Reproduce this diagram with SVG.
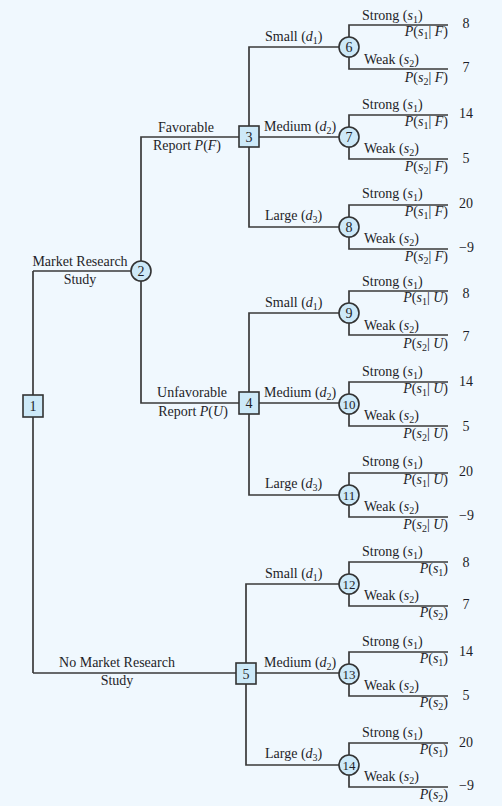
<svg xmlns="http://www.w3.org/2000/svg" width="502" height="806" viewBox="0 0 502 806">
<style>
text{font-family:"Liberation Serif","Times New Roman",serif;font-size:14px;fill:#1e1e28}
.i{font-style:italic}
.sub{font-size:10px}
.e{text-anchor:end}
.m{text-anchor:middle}
.ln{fill:none;stroke:#3a3a3a;stroke-width:1.7}
.nd{fill:#cde9f8;stroke:#333;stroke-width:1.6}
</style>
<rect width="502" height="806" fill="#f0f8fe"/>
<g id="connectors" class="ln">
<path d="M33,271 V673"/>
<path d="M33,271 H131"/>
<path d="M33,673 H236"/>
<path d="M141,261 V137 H239"/>
<path d="M141,281 V403 H239"/>
<path d="M249,126 V47 H339 M259,137 H339 M249,147 V227 H339"/>
<path d="M249,392 V313 H339 M259,403 H339 M249,414 V495 H339"/>
<path d="M246,663 V584 H339 M256,673 H339 M246,684 V765 H339"/>
<path d="M349,37 V25 H448 M349,57 V69 H448"/>
<path d="M349,127 V115 H448 M349,147 V159 H448"/>
<path d="M349,217 V205 H448 M349,237 V249 H448"/>
<path d="M349,303 V291 H448 M349,323 V335 H448"/>
<path d="M349,394 V382 H448 M349,414 V426 H448"/>
<path d="M349,485 V473 H448 M349,505 V517 H448"/>
<path d="M349,574 V562 H448 M349,594 V606 H448"/>
<path d="M349,664 V652 H448 M349,684 V696 H448"/>
<path d="M349,755 V743 H448 M349,775 V787 H448"/>
</g>
<g id="labels">
<text x="80" y="266" class="m">Market Research</text>
<text x="80" y="284" class="m">Study</text>
<text x="117" y="667" class="m">No Market Research</text>
<text x="117" y="685" class="m">Study</text>
<text x="186" y="132" class="m">Favorable</text>
<text x="187" y="150" class="m">Report <tspan class="i">P</tspan>(<tspan class="i">F</tspan>)</text>
<text x="192" y="397" class="m">Unfavorable</text>
<text x="193" y="416" class="m">Report <tspan class="i">P</tspan>(<tspan class="i">U</tspan>)</text>
</g>
<g id="decision-labels">
<text x="265" y="41">Small (<tspan class="i">d</tspan><tspan class="sub" dy="3">1</tspan><tspan dy="-3">)</tspan></text>
<text x="264" y="131">Medium (<tspan class="i">d</tspan><tspan class="sub" dy="3">2</tspan><tspan dy="-3">)</tspan></text>
<text x="265" y="220">Large (<tspan class="i">d</tspan><tspan class="sub" dy="3">3</tspan><tspan dy="-3">)</tspan></text>
<text x="265" y="307">Small (<tspan class="i">d</tspan><tspan class="sub" dy="3">1</tspan><tspan dy="-3">)</tspan></text>
<text x="264" y="397">Medium (<tspan class="i">d</tspan><tspan class="sub" dy="3">2</tspan><tspan dy="-3">)</tspan></text>
<text x="265" y="488">Large (<tspan class="i">d</tspan><tspan class="sub" dy="3">3</tspan><tspan dy="-3">)</tspan></text>
<text x="265" y="578">Small (<tspan class="i">d</tspan><tspan class="sub" dy="3">1</tspan><tspan dy="-3">)</tspan></text>
<text x="264" y="667">Medium (<tspan class="i">d</tspan><tspan class="sub" dy="3">2</tspan><tspan dy="-3">)</tspan></text>
<text x="265" y="758">Large (<tspan class="i">d</tspan><tspan class="sub" dy="3">3</tspan><tspan dy="-3">)</tspan></text>
</g>
<g id="node1"><rect class="nd" x="23" y="395" width="20" height="22"/><text x="33" y="411" class="m">1</text></g>
<g id="node2"><circle class="nd" cx="141" cy="271" r="10"/><text x="141" y="276" class="m">2</text></g>
<g id="node3"><rect class="nd" x="239" y="126" width="20" height="21"/><text x="249" y="142" class="m">3</text></g>
<g id="node4"><rect class="nd" x="239" y="392" width="20" height="22"/><text x="249" y="408" class="m">4</text></g>
<g id="node5"><rect class="nd" x="236" y="663" width="20" height="21"/><text x="246" y="679" class="m">5</text></g>

<g id="node6"><circle class="nd" cx="349" cy="47" r="10"/><text x="349" y="52" class="m">6</text>
<text x="362" y="20">Strong (<tspan class="i">s</tspan><tspan class="sub" dy="3">1</tspan><tspan dy="-3">)</tspan></text>
<text x="448" y="36" class="e"><tspan class="i">P</tspan>(<tspan class="i">s</tspan><tspan class="sub" dy="3">1</tspan><tspan dy="-3">| </tspan><tspan class="i">F</tspan>)</text>
<text x="364" y="64">Weak (<tspan class="i">s</tspan><tspan class="sub" dy="3">2</tspan><tspan dy="-3">)</tspan></text>
<text x="448" y="82" class="e"><tspan class="i">P</tspan>(<tspan class="i">s</tspan><tspan class="sub" dy="3">2</tspan><tspan dy="-3">| </tspan><tspan class="i">F</tspan>)</text>
<text x="466" y="28" class="m">8</text><text x="466" y="72" class="m">7</text></g>

<g id="node7"><circle class="nd" cx="349" cy="137" r="10"/><text x="349" y="142" class="m">7</text>
<text x="362" y="109">Strong (<tspan class="i">s</tspan><tspan class="sub" dy="3">1</tspan><tspan dy="-3">)</tspan></text>
<text x="448" y="126" class="e"><tspan class="i">P</tspan>(<tspan class="i">s</tspan><tspan class="sub" dy="3">1</tspan><tspan dy="-3">| </tspan><tspan class="i">F</tspan>)</text>
<text x="364" y="153">Weak (<tspan class="i">s</tspan><tspan class="sub" dy="3">2</tspan><tspan dy="-3">)</tspan></text>
<text x="448" y="171" class="e"><tspan class="i">P</tspan>(<tspan class="i">s</tspan><tspan class="sub" dy="3">2</tspan><tspan dy="-3">| </tspan><tspan class="i">F</tspan>)</text>
<text x="466" y="118" class="m">14</text><text x="466" y="163" class="m">5</text></g>

<g id="node8"><circle class="nd" cx="349" cy="227" r="10"/><text x="349" y="232" class="m">8</text>
<text x="362" y="198">Strong (<tspan class="i">s</tspan><tspan class="sub" dy="3">1</tspan><tspan dy="-3">)</tspan></text>
<text x="448" y="216" class="e"><tspan class="i">P</tspan>(<tspan class="i">s</tspan><tspan class="sub" dy="3">1</tspan><tspan dy="-3">| </tspan><tspan class="i">F</tspan>)</text>
<text x="364" y="243">Weak (<tspan class="i">s</tspan><tspan class="sub" dy="3">2</tspan><tspan dy="-3">)</tspan></text>
<text x="448" y="261" class="e"><tspan class="i">P</tspan>(<tspan class="i">s</tspan><tspan class="sub" dy="3">2</tspan><tspan dy="-3">| </tspan><tspan class="i">F</tspan>)</text>
<text x="466" y="208" class="m">20</text><text x="459" y="252">−9</text></g>

<g id="node9"><circle class="nd" cx="349" cy="313" r="10"/><text x="349" y="318" class="m">9</text>
<text x="362" y="286">Strong (<tspan class="i">s</tspan><tspan class="sub" dy="3">1</tspan><tspan dy="-3">)</tspan></text>
<text x="448" y="302" class="e"><tspan class="i">P</tspan>(<tspan class="i">s</tspan><tspan class="sub" dy="3">1</tspan><tspan dy="-3">| </tspan><tspan class="i">U</tspan>)</text>
<text x="364" y="330">Weak (<tspan class="i">s</tspan><tspan class="sub" dy="3">2</tspan><tspan dy="-3">)</tspan></text>
<text x="448" y="348" class="e"><tspan class="i">P</tspan>(<tspan class="i">s</tspan><tspan class="sub" dy="3">2</tspan><tspan dy="-3">| </tspan><tspan class="i">U</tspan>)</text>
<text x="466" y="298" class="m">8</text><text x="466" y="341" class="m">7</text></g>

<g id="node10"><circle class="nd" cx="349" cy="404" r="10"/><text x="349" y="409" class="m" style="font-size:13px">10</text>
<text x="362" y="376">Strong (<tspan class="i">s</tspan><tspan class="sub" dy="3">1</tspan><tspan dy="-3">)</tspan></text>
<text x="448" y="393" class="e"><tspan class="i">P</tspan>(<tspan class="i">s</tspan><tspan class="sub" dy="3">1</tspan><tspan dy="-3">| </tspan><tspan class="i">U</tspan>)</text>
<text x="364" y="420">Weak (<tspan class="i">s</tspan><tspan class="sub" dy="3">2</tspan><tspan dy="-3">)</tspan></text>
<text x="448" y="438" class="e"><tspan class="i">P</tspan>(<tspan class="i">s</tspan><tspan class="sub" dy="3">2</tspan><tspan dy="-3">| </tspan><tspan class="i">U</tspan>)</text>
<text x="466" y="386" class="m">14</text><text x="466" y="431" class="m">5</text></g>

<g id="node11"><circle class="nd" cx="349" cy="495" r="10"/><text x="349" y="500" class="m" style="font-size:13px">11</text>
<text x="362" y="466">Strong (<tspan class="i">s</tspan><tspan class="sub" dy="3">1</tspan><tspan dy="-3">)</tspan></text>
<text x="448" y="484" class="e"><tspan class="i">P</tspan>(<tspan class="i">s</tspan><tspan class="sub" dy="3">1</tspan><tspan dy="-3">| </tspan><tspan class="i">U</tspan>)</text>
<text x="364" y="511">Weak (<tspan class="i">s</tspan><tspan class="sub" dy="3">2</tspan><tspan dy="-3">)</tspan></text>
<text x="448" y="529" class="e"><tspan class="i">P</tspan>(<tspan class="i">s</tspan><tspan class="sub" dy="3">2</tspan><tspan dy="-3">| </tspan><tspan class="i">U</tspan>)</text>
<text x="466" y="476" class="m">20</text><text x="459" y="520">−9</text></g>

<g id="node12"><circle class="nd" cx="349" cy="584" r="10"/><text x="349" y="589" class="m" style="font-size:13px">12</text>
<text x="362" y="556">Strong (<tspan class="i">s</tspan><tspan class="sub" dy="3">1</tspan><tspan dy="-3">)</tspan></text>
<text x="448" y="573" class="e"><tspan class="i">P</tspan>(<tspan class="i">s</tspan><tspan class="sub" dy="3">1</tspan><tspan dy="-3">)</tspan></text>
<text x="364" y="600">Weak (<tspan class="i">s</tspan><tspan class="sub" dy="3">2</tspan><tspan dy="-3">)</tspan></text>
<text x="448" y="617" class="e"><tspan class="i">P</tspan>(<tspan class="i">s</tspan><tspan class="sub" dy="3">2</tspan><tspan dy="-3">)</tspan></text>
<text x="466" y="567" class="m">8</text><text x="466" y="609" class="m">7</text></g>

<g id="node13"><circle class="nd" cx="349" cy="674" r="10"/><text x="349" y="679" class="m" style="font-size:13px">13</text>
<text x="362" y="646">Strong (<tspan class="i">s</tspan><tspan class="sub" dy="3">1</tspan><tspan dy="-3">)</tspan></text>
<text x="448" y="663" class="e"><tspan class="i">P</tspan>(<tspan class="i">s</tspan><tspan class="sub" dy="3">1</tspan><tspan dy="-3">)</tspan></text>
<text x="364" y="690">Weak (<tspan class="i">s</tspan><tspan class="sub" dy="3">2</tspan><tspan dy="-3">)</tspan></text>
<text x="448" y="707" class="e"><tspan class="i">P</tspan>(<tspan class="i">s</tspan><tspan class="sub" dy="3">2</tspan><tspan dy="-3">)</tspan></text>
<text x="466" y="656" class="m">14</text><text x="466" y="700" class="m">5</text></g>

<g id="node14"><circle class="nd" cx="349" cy="765" r="10"/><text x="349" y="770" class="m" style="font-size:13px">14</text>
<text x="362" y="737">Strong (<tspan class="i">s</tspan><tspan class="sub" dy="3">1</tspan><tspan dy="-3">)</tspan></text>
<text x="448" y="754" class="e"><tspan class="i">P</tspan>(<tspan class="i">s</tspan><tspan class="sub" dy="3">1</tspan><tspan dy="-3">)</tspan></text>
<text x="364" y="781">Weak (<tspan class="i">s</tspan><tspan class="sub" dy="3">2</tspan><tspan dy="-3">)</tspan></text>
<text x="448" y="799" class="e"><tspan class="i">P</tspan>(<tspan class="i">s</tspan><tspan class="sub" dy="3">2</tspan><tspan dy="-3">)</tspan></text>
<text x="466" y="747" class="m">20</text><text x="459" y="790">−9</text></g>
</svg>
